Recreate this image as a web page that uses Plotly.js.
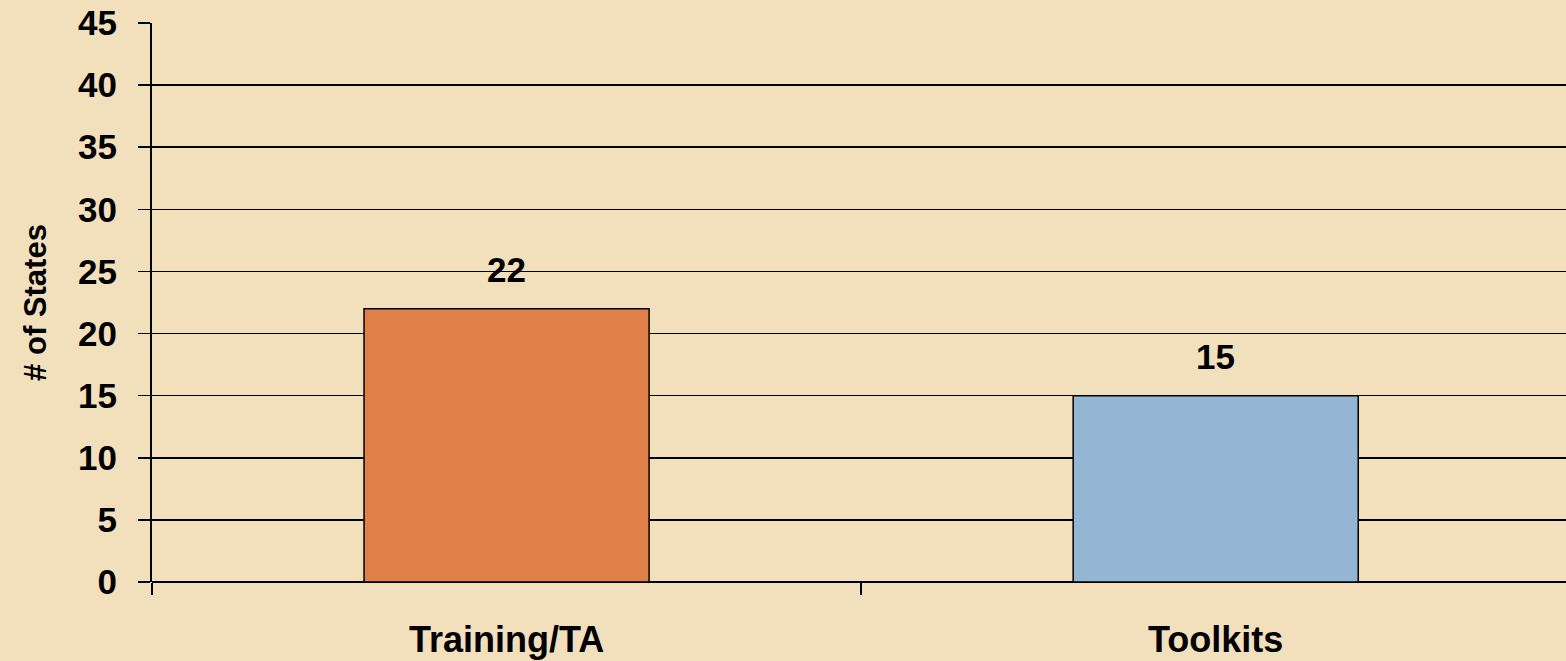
<!DOCTYPE html>
<html lang="en">
<head>
    <meta charset="UTF-8">
    <title># of States</title>
    <script src="https://cdn.plot.ly/plotly-3.0.1.min.js"></script>
    <style>
        html, body { margin: 0; padding: 0; background: #F2DFBC; }
        #chart { width: 1566px; height: 661px; }
    </style>
</head>
<body>
    <div id="chart"></div>
    <script>
        const categories = ['Training/TA', 'Toolkits'];
        const states = [22, 15];
        const barColors = ['#DE8048', '#95B5D4'];
        const yTicks = [0, 5, 10, 15, 20, 25, 30, 35, 40, 45];

        const font = '"Liberation Sans", Arial, sans-serif';

        const trace = {
            type: 'bar',
            x: categories,
            y: states,
            marker: { color: barColors, line: { color: '#000', width: 1.5 } },
            hoverinfo: 'x+y'
        };

        // value labels sit a bit above each bar
        const labels = categories.map((c, i) => ({
            x: c,
            y: states[i],
            text: String(states[i]),
            showarrow: false,
            yanchor: 'bottom',
            yshift: 18,
            font: { family: font, size: 35, color: '#000', weight: 'bold' }
        }));

        const layout = {
            width: 1566,
            height: 661,
            margin: { l: 152, r: 0, t: 23, b: 79 },
            paper_bgcolor: '#F2DFBC',
            plot_bgcolor: '#F2DFBC',
            bargap: 0.598,
            showlegend: false,
            font: { family: font, color: '#000' },
            xaxis: {
                type: 'category',
                range: [-0.5, 1.494],   // right edge of the plot runs slightly past the frame
                tickson: 'boundaries',
                ticks: 'outside',
                ticklen: 12,
                tickwidth: 1.5,
                tickcolor: '#000',
                showgrid: false,
                showline: false,
                tickfont: { family: font, size: 36, weight: 'bold' },
                ticklabelstandoff: 33
            },
            yaxis: {
                range: [0, 45],
                tickvals: yTicks,
                ticks: 'outside',
                ticklen: 12,
                tickwidth: 1.5,
                tickcolor: '#000',
                showline: true,
                linecolor: '#000',
                linewidth: 2,
                gridcolor: '#000',
                gridwidth: 1.5,
                zeroline: true,
                zerolinecolor: '#000',
                zerolinewidth: 1.5,
                tickfont: { family: font, size: 35, weight: 'bold' },
                ticklabelstandoff: 14,
                title: { text: '# of States', font: { family: font, size: 31, weight: 'bold' }, standoff: 22 }
            },
            annotations: labels
        };

        Plotly.newPlot('chart', [trace], layout, { displayModeBar: false, staticPlot: true });
    </script>
</body>
</html>
